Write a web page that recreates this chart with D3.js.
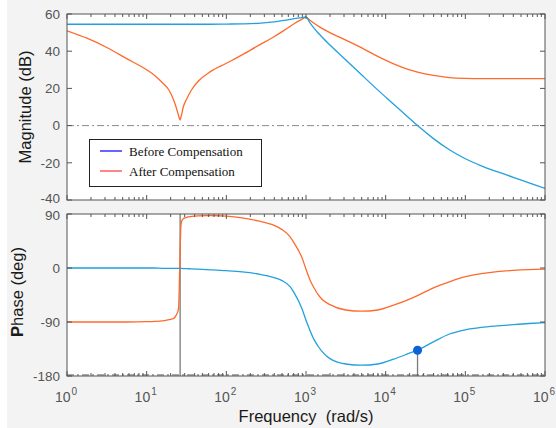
<!DOCTYPE html>
<html>
<head>
<meta charset="utf-8">
<script src="https://cdn.jsdelivr.net/npm/d3@7"></script>
<style>
  html, body { margin: 0; padding: 0; background: #ffffff; }
  svg { display: block; }
</style>
</head>
<body>
<svg id="chart" width="556" height="428"></svg>
<script>
// Frequency grid (rad/s) shared by every series
const freq = [1, 1.78, 3.16, 5.62, 10, 12.6, 15.8, 19.1, 21.9, 23.4,
  25.1, 25.7, 26.3, 26.9, 27.5, 28.8, 31.6, 36.3, 44.7, 63.1,
  100, 158, 251, 398, 501, 631, 708, 891, 1000, 1122,
  1259, 1413, 1585, 1995, 3162, 5012, 7943, 12589, 19953, 25119,
  39811, 63096, 1e5, 158489, 251189, 398107, 630957, 1e6];

// Magnitude (dB)
const magBefore = [54.5, 54.5, 54.5, 54.5, 54.5, 54.5, 54.5, 54.5, 54.5, 54.5,
  54.5, 54.5, 54.5, 54.5, 54.5, 54.5, 54.5, 54.5, 54.5, 54.5,
  54.6, 54.7, 55.0, 55.8, 56.4, 57.1, 57.5, 58.1, 58.4, 55.2,
  52.4, 49.9, 47.6, 43.3, 35.3, 27.2, 19.2, 11.5, 3.8, 0,
  -7, -13, -17.8, -21.6, -24.8, -27.8, -30.8, -33.8];
const magAfter = [51, 47, 42, 36, 30, 27, 23, 19, 13.5, 10,
  5.5, 4, 3, 4.5, 6, 10, 14, 19, 24, 29,
  33.5, 38, 43, 47.8, 50.5, 53.3, 54.8, 57.2, 58.3, 56.6,
  55.0, 53.6, 52.3, 50, 46, 41.8, 37.2, 33.2, 30, 28.8,
  27, 25.8, 25.4, 25.3, 25.3, 25.3, 25.3, 25.3];

// Phase (deg)
const phaseBefore = [0, 0, 0, 0, 0, 0, -0.5, -0.5, -0.5, -0.5,
  -0.5, -0.5, -0.5, -0.5, -0.5, -1, -1, -1.5, -2, -3,
  -4.5, -6.5, -10, -16, -21, -31, -41, -68, -87, -104,
  -119, -130, -139, -151, -160, -162, -160, -152, -142, -137,
  -123, -110, -103, -99, -96.5, -94.5, -92.5, -91];
const phaseAfter = [-90, -90, -90, -90, -89.5, -89, -88, -86, -84, -79,
  -68, -30, 30, 70, 78, 82, 84.5, 86, 87, 87.5,
  86.5, 83.5, 78.5, 71, 64, 52, 42, 17, -2, -20,
  -33, -44, -52, -61, -70, -72, -70, -62, -52, -46,
  -33, -23, -14.5, -9.5, -6, -4, -2.7, -2];

// Gain crossover of the uncompensated loop and the notch frequency
const crossFreq = 25119;
const crossPhase = -137;
const notchFreq = 26.3;

const magTicks = [-40, -20, 0, 20, 40, 60];
const phaseTicks = [-180, -90, 0, 90];
const decadeExponents = [0, 1, 2, 3, 4, 5, 6];
const seriesNames = ["Before Compensation", "After Compensation"];

const svg = d3.select("#chart");
const W = 556, H = 428;
const left = 67, right = 545;
const magTop = 14, magBottom = 200;
const phTop = 214, phBottom = 376;

const colBefore = "#22a1dc";
const colAfter = "#ff6a2c";
const axisCol = "#555555";
const tickTextCol = "#555555";
const sans = "'Liberation Sans', Arial, sans-serif";

// figure background
svg.append("rect").attr("width", W).attr("height", H).attr("fill", "#f3f3f3");
svg.append("rect").attr("width", 7).attr("height", H).attr("fill", "#ffffff");

const x = d3.scaleLog().domain([1, 1e6]).range([left, right]);
const yMag = d3.scaleLinear().domain([-40, 60]).range([magBottom, magTop]);
const yPh = d3.scaleLinear().domain([-180, 90]).range([phBottom, phTop]);

const defs = svg.append("defs");
function clip(id, y0, y1) {
  defs.append("clipPath").attr("id", id)
    .append("rect").attr("x", left).attr("y", y0)
    .attr("width", right - left).attr("height", y1 - y0);
}
clip("clipMag", magTop, magBottom);
clip("clipPh", phTop, phBottom);

function panel(y, g) {
  const [y0, y1] = [y.range()[1], y.range()[0]];
  g.append("rect").attr("x", left).attr("y", y0)
    .attr("width", right - left).attr("height", y1 - y0)
    .attr("fill", "#ffffff");
}

// labels at the shared edge between the panels sit a little apart
function labelNudge(y, v) {
  if (y === yMag && v === -40) return -1.5;
  if (y === yPh && v === 90) return 1.5;
  return 0;
}

function frame(y, ticks, g) {
  const [y0, y1] = [y.range()[1], y.range()[0]];
  // log ticks on top and bottom edges, pointing inward
  x.ticks().forEach(v => {
    const major = Math.abs(Math.log10(v) - Math.round(Math.log10(v))) < 1e-9;
    const len = major ? 5 : 3;
    const px = x(v);
    g.append("line").attr("x1", px).attr("x2", px).attr("y1", y1).attr("y2", y1 - len)
      .attr("stroke", axisCol).attr("stroke-width", 1);
    g.append("line").attr("x1", px).attr("x2", px).attr("y1", y0).attr("y2", y0 + len)
      .attr("stroke", axisCol).attr("stroke-width", 1);
  });
  // value ticks on both sides
  ticks.forEach(v => {
    const py = y(v);
    g.append("line").attr("x1", left).attr("x2", left + 5).attr("y1", py).attr("y2", py)
      .attr("stroke", axisCol);
    g.append("line").attr("x1", right).attr("x2", right - 5).attr("y1", py).attr("y2", py)
      .attr("stroke", axisCol);
    g.append("text").attr("x", 60).attr("y", py + labelNudge(y, v)).attr("dy", "0.36em")
      .attr("text-anchor", "end").attr("font-family", sans).attr("font-size", 13.5)
      .attr("fill", tickTextCol).text(v);
  });
  g.append("rect").attr("x", left).attr("y", y0)
    .attr("width", right - left).attr("height", y1 - y0)
    .attr("fill", "none").attr("stroke", axisCol).attr("stroke-width", 1);
}

const line = (y, vals) => d3.line()
  .x((d, i) => x(freq[i]))
  .y((d) => y(d))
  .curve(d3.curveMonotoneX)(vals);

// ---------- magnitude panel ----------
const gMag = svg.append("g");
panel(yMag, gMag);
const gMagPlot = gMag.append("g").attr("clip-path", "url(#clipMag)");
gMagPlot.append("line").attr("x1", left).attr("x2", right)
  .attr("y1", yMag(0)).attr("y2", yMag(0))
  .attr("stroke", "#8a8a8a").attr("stroke-width", 1)
  .attr("stroke-dasharray", "7,3,2,3");
gMagPlot.append("path").attr("d", line(yMag, magAfter))
  .attr("fill", "none").attr("stroke", colAfter).attr("stroke-width", 1.3);
gMagPlot.append("path").attr("d", line(yMag, magBefore))
  .attr("fill", "none").attr("stroke", colBefore).attr("stroke-width", 1.3);
frame(yMag, magTicks, gMag);

// legend
const lg = svg.append("g");
lg.append("rect").attr("x", 89.5).attr("y", 139.5).attr("width", 172).attr("height", 47)
  .attr("fill", "#ffffff").attr("stroke", "#222222").attr("stroke-width", 1);
[["#1414ff", 151], ["#ff4646", 171]].forEach(([c, yy], i) => {
  lg.append("line").attr("x1", 100).attr("x2", 122).attr("y1", yy).attr("y2", yy)
    .attr("stroke", c).attr("stroke-width", 1.3);
  lg.append("text").attr("x", 129).attr("y", yy + 4.5)
    .attr("font-family", "'Liberation Serif', 'Times New Roman', serif")
    .attr("font-size", 13).attr("fill", "#111111").text(seriesNames[i]);
});

// ---------- phase panel ----------
const gPh = svg.append("g");
panel(yPh, gPh);
const gPhPlot = gPh.append("g").attr("clip-path", "url(#clipPh)");
gPhPlot.append("line").attr("x1", x(notchFreq)).attr("x2", x(notchFreq))
  .attr("y1", yPh(-180)).attr("y2", yPh(90))
  .attr("stroke", "#7a7a7a").attr("stroke-width", 1.3);
gPhPlot.append("line").attr("x1", x(crossFreq)).attr("x2", x(crossFreq))
  .attr("y1", yPh(-180)).attr("y2", yPh(crossPhase))
  .attr("stroke", "#7a7a7a").attr("stroke-width", 1.3);
gPhPlot.append("path").attr("d", line(yPh, phaseAfter))
  .attr("fill", "none").attr("stroke", colAfter).attr("stroke-width", 1.3);
gPhPlot.append("path").attr("d", line(yPh, phaseBefore))
  .attr("fill", "none").attr("stroke", colBefore).attr("stroke-width", 1.3);
frame(yPh, phaseTicks, gPh);
gPh.append("line").attr("x1", left).attr("x2", right)
  .attr("y1", yPh(-180) - 1).attr("y2", yPh(-180) - 1)
  .attr("stroke", "#555555").attr("stroke-width", 1.2)
  .attr("stroke-dasharray", "7,3,2,3");
gPh.append("circle").attr("cx", x(crossFreq)).attr("cy", yPh(crossPhase))
  .attr("r", 4.5).attr("fill", "#0b63d6");

// x tick labels (powers of ten)
const gx = svg.append("g");
decadeExponents.forEach(e => {
  const t = gx.append("text").attr("x", x(Math.pow(10, e)) - 1).attr("y", 402)
    .attr("text-anchor", "middle").attr("font-family", sans)
    .attr("fill", tickTextCol);
  t.append("tspan").attr("font-size", 14).text("10");
  t.append("tspan").attr("font-size", 10).attr("dy", -7).attr("dx", 1).text(e);
});

// axis titles
svg.append("text").attr("x", (left + right) / 2).attr("y", 422)
  .attr("text-anchor", "middle").attr("font-family", sans).attr("font-size", 16.5)
  .attr("fill", "#1a1a1a").style("white-space", "pre").text("Frequency  (rad/s)");
svg.append("text").attr("transform", `translate(31,${(magTop + magBottom) / 2}) rotate(-90)`)
  .attr("text-anchor", "middle").attr("font-family", sans).attr("font-size", 16.5)
  .attr("fill", "#1a1a1a").text("Magnitude (dB)");
const phLabel = svg.append("text")
  .attr("transform", `translate(23,${(phTop + phBottom) / 2 - 3}) rotate(-90)`)
  .attr("text-anchor", "middle").attr("font-family", sans).attr("font-size", 16.5)
  .attr("fill", "#1a1a1a");
phLabel.append("tspan").attr("font-weight", "bold").text("P");
phLabel.append("tspan").text("hase (deg)");
</script>
</body>
</html>
